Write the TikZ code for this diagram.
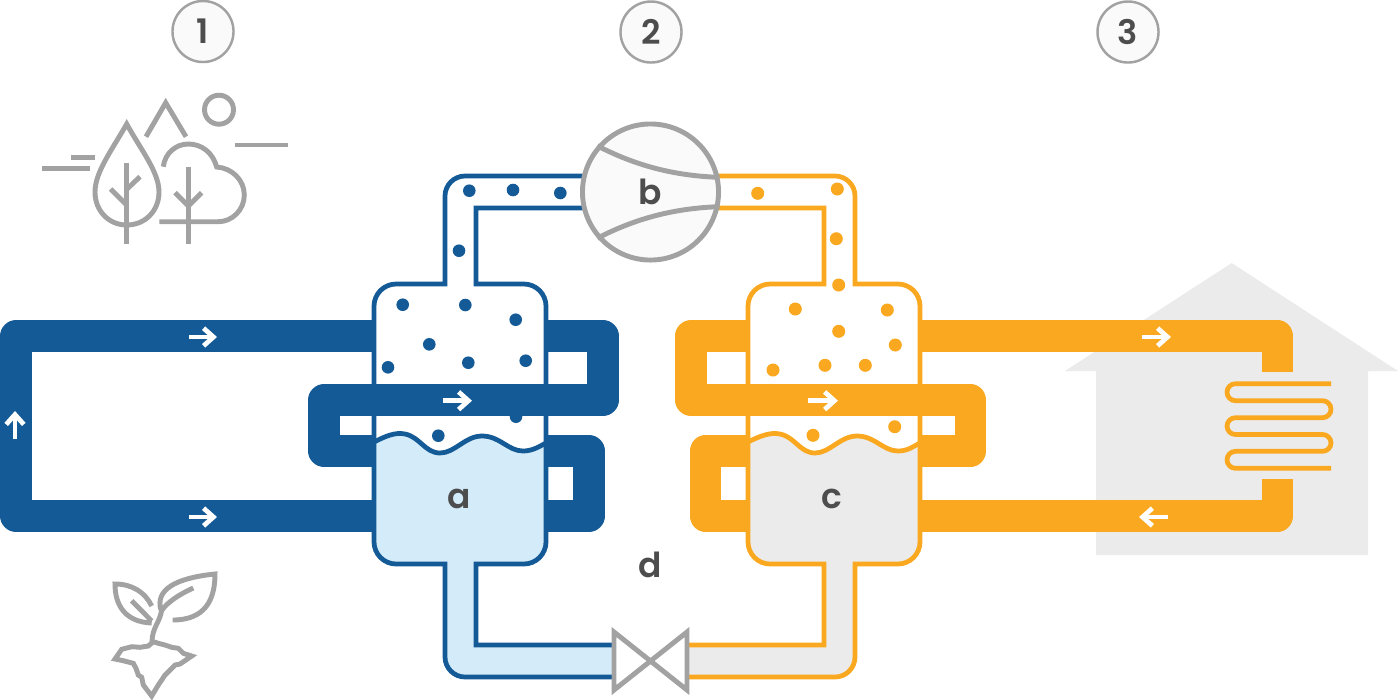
\documentclass[tikz,border=0pt]{standalone}
\usepackage{fontspec}
\setmainfont{Poppins SemiBold}
\usetikzlibrary{arrows.meta}
\definecolor{coldblue}{HTML}{145A96}
\definecolor{coldfill}{HTML}{D4EBF9}
\definecolor{warmorange}{HTML}{F9A81F}
\definecolor{warmfill}{HTML}{EBEBEB}
\definecolor{icongrey}{HTML}{A2A2A2}
\definecolor{labelgrey}{HTML}{4D4D4D}
\tikzset{
  thickpipe/.style={line width=8.9pt,line join=round},
  tubeline/.style={line width=1.35pt},
  iconline/.style={draw=icongrey,line width=1.4pt},
  flowarrow/.style={draw=white,line width=1.35pt,-{Straight Barb[length=2.8pt,width=5pt]}},
  partlabel/.style={text=labelgrey,font=\fontsize{9.8}{12}\selectfont},
  numberring/.style={circle,draw=icongrey,line width=.7pt,fill=white!98!black,inner sep=0pt,minimum size=.61cm,
    text=labelgrey,font=\fontsize{9.6}{12}\selectfont}
}
\begin{document}
\begin{tikzpicture}[x=.01cm,y=-.01cm]
    \useasboundingbox (0,0) rectangle (1400,699);
    \fill[warmfill] (1231.7,263) -- (1398,371) -- (1368,371) -- (1368,555) -- (1096,555) -- (1096,371) -- (1065,371) -- cycle;
    \draw[thickpipe,coldblue] (374,336) -- (16,336) -- (16,516) -- (374,516);
    \draw[thickpipe,coldblue] (546,336) -- (603,336) -- (603,400) -- (324,400) -- (324,451) -- (374,451);
    \draw[thickpipe,coldblue] (546,451) -- (589,451) -- (589,516) -- (546,516);
    \draw[thickpipe,warmorange] (748,336) -- (691,336) -- (691,400) -- (970.5,400) -- (970.5,451) -- (920,451);
    \draw[thickpipe,warmorange] (748,451) -- (705.5,451) -- (705.5,516) -- (748,516);
    \draw[thickpipe,warmorange] (920,336) -- (1277.5,336) -- (1277.5,372);
    \draw[thickpipe,warmorange] (920,516) -- (1277.5,516) -- (1277.5,479);
    \draw[warmorange,tubeline,rounded corners=2.42pt] (1331,383.7) -- (1227,383.7) -- (1227,400.7) -- (1331,400.7) -- (1331,417.7) -- (1227,417.7) -- (1227,434.5) -- (1331,434.5) -- (1331,451.3) -- (1227,451.3) -- (1227,468.3) -- (1331,468.3);
    \path[save path=\tanka] (615,677) [rounded corners=5.7pt] -- (445,677) [sharp corners] -- (445,564) [rounded corners=6.3pt] -- (374,564) -- (374,284) [sharp corners] -- (445,284) [rounded corners=5.7pt] -- (445,176) [sharp corners] -- (585,176) -- (585,208) -- (476,208) -- (476,284) [rounded corners=6.3pt] -- (546,284) -- (546,564) [sharp corners] -- (476,564) -- (476,645) -- (615,645) -- cycle;
    \fill[white,use path=\tanka];
    \begin{scope}
        \clip[use path=\tanka];
        \fill[coldfill] (374,442) .. controls (386,436) and (395,432) .. (405,434) .. controls (420,437) and (425,453) .. (440,453) .. controls (455,453) and (465,436) .. (482,436) .. controls (500,436) and (508,451) .. (523,451) .. controls (533,451) and (540,446) .. (546,443) -- (620,443) -- (620,699) -- (360,699) -- cycle;
    \end{scope}
    \draw[coldblue,tubeline,use path=\tanka];
    \draw[coldblue,tubeline] (374,442) .. controls (386,436) and (395,432) .. (405,434) .. controls (420,437) and (425,453) .. (440,453) .. controls (455,453) and (465,436) .. (482,436) .. controls (500,436) and (508,451) .. (523,451) .. controls (533,451) and (540,446) .. (546,443);
    \path[save path=\tankc] (686,677) [rounded corners=5.7pt] -- (855,677) [sharp corners] -- (855,564) [rounded corners=6.3pt] -- (920,564) -- (920,284) [sharp corners] -- (855,284) [rounded corners=5.7pt] -- (855,176) [sharp corners] -- (715,176) -- (715,208) -- (824,208) -- (824,284) [rounded corners=6.3pt] -- (748,284) -- (748,564) [sharp corners] -- (824,564) -- (824,645) -- (686,645) -- cycle;
    \fill[white,use path=\tankc];
    \begin{scope}
        \clip[use path=\tankc];
        \fill[warmfill] (748,442) .. controls (760,436) and (770,432) .. (780,434) .. controls (795,437) and (800,453) .. (815,453) .. controls (830,453) and (840,436) .. (857,436) .. controls (875,436) and (883,451) .. (898,451) .. controls (908,451) and (914,446) .. (920,443) -- (930,443) -- (930,699) -- (680,699) -- (680,442) -- cycle;
    \end{scope}
    \draw[warmorange,tubeline,use path=\tankc];
    \draw[warmorange,tubeline] (748,442) .. controls (760,436) and (770,432) .. (780,434) .. controls (795,437) and (800,453) .. (815,453) .. controls (830,453) and (840,436) .. (857,436) .. controls (875,436) and (883,451) .. (898,451) .. controls (908,451) and (914,446) .. (920,443);
    \foreach \x/\y in {402.7/304.7,465.3/305,515.7/319.7,429.3/344.3,388/367.3,468.3/362.7,525.7/360.7,438.3/435.7,516/416.7,469.3/190.7,513/190,560.3/193,459/250.7}
        \fill[coldblue] (\x,\y) circle (6.3);
    \foreach \x/\y in {838.7/285,795.3/309,887.3/310,838.7/331.3,895.3/345,773/370,825/365.3,865.3/365.3,813/435.3,894.7/426.7,757.7/193.3,837.3/189,836.3/238.7}
        \fill[warmorange] (\x,\y) circle (6.5);
    \draw[thickpipe,coldblue] (324,400) -- (603,400);
    \draw[thickpipe,warmorange] (691,400) -- (970.5,400);
    \draw[flowarrow] (189,337) -- (217,337);
    \draw[flowarrow] (443,400.7) -- (472,400.7);
    \draw[flowarrow] (189,517) -- (217,517);
    \draw[flowarrow] (15,439) -- (15,411);
    \draw[flowarrow] (1142,337) -- (1171,337);
    \draw[flowarrow] (808,400.7) -- (838,400.7);
    \draw[flowarrow] (1168,517) -- (1139,517);
    \node[circle,iconline,fill=white!98!black,inner sep=0pt,minimum size=1.36cm,partlabel] (b) at (650.5,192) {b};
    \draw[iconline] (b.139) .. controls (640,168) and (680,176) .. (b.12);
    \draw[iconline] (b.221) .. controls (640,216) and (680,208) .. (b.-12);
    \draw[iconline,fill=white] (614,632) -- (687,690) -- (687,632) -- (614,690) -- cycle;
    \node[partlabel] (a) at (459.5,499) {a};
    \node[partlabel] (c) at (831.5,499) {c};
    \node[partlabel] (d) at (650.5,565) {d};
    \node[numberring] (one) at (203,31.5) {1};
    \node[numberring] (two) at (651,32) {2};
    \node[numberring] (three) at (1128,32) {3};
    \draw[iconline] (219,109.7) circle (14.5);
    \draw[iconline] (146,136.7) -- (165.7,102.7) -- (186,136.7);
    \draw[iconline] (235,145) -- (288,145);
    \draw[iconline] (70.7,157.3) -- (94.7,157.3);
    \draw[iconline] (42.3,168.3) -- (90,168.3);
    \draw[iconline] (126.7,124) .. controls (112,150) and (95,172) .. (95,192) .. controls (95,211) and (109,225) .. (126.7,225) .. controls (145,225) and (159,211) .. (159,192) .. controls (159,172) and (141,150) .. (126.7,124) -- cycle;
    \draw[iconline] (126.7,163.3) -- (126.7,244);
    \draw[iconline] (110.7,189) -- (126.7,205);
    \draw[iconline] (140,176.7) -- (126.7,189.3);
    \draw[iconline] (163.3,166.7) .. controls (165,153) and (176,144) .. (188.3,144) .. controls (202,144) and (213,153) .. (216.7,167) .. controls (232,168) and (244.3,180) .. (244.3,195) .. controls (244.3,210) and (232,221.7) .. (218.3,221.7) -- (159.3,221.7);
    \draw[iconline] (188.3,166.7) -- (188.3,244);
    \draw[iconline] (175,192.7) -- (188.3,206) -- (201.7,192.7);
    \draw[iconline] (151.7,606) .. controls (145,592) and (132,584) .. (115,584) .. controls (115,605) and (125,622) .. (151.7,623);
    \draw[iconline] (131.7,600.7) -- (151.7,621);
    \draw[iconline] (161,610) .. controls (155,590) and (175,578) .. (215,574) .. controls (215,600) and (205,620) .. (172.7,620);
    \draw[iconline] (193.3,588) .. controls (178,595) and (168,602) .. (162,610);
    \draw[iconline] (161.7,610) .. controls (160,622) and (152,628) .. (152,642);
    \draw[iconline] (153.3,641.7) -- (148.3,646) -- (140,647.3) -- (131.7,646.7) -- (121.7,649.3) -- (115,659) -- (123.3,660.7) -- (133.3,663.3) -- (136,668.3) -- (138.3,675) -- (141.7,677.3) -- (143.3,685) -- (151.7,696) -- (158.3,685) -- (161.7,680) -- (165,675) -- (168.3,671.7) -- (175,665) -- (180,664) -- (191.7,656) -- (183.3,653.3) -- (178.3,648.3) -- (171.7,647.3) -- (165,645) -- (158.3,643.3) -- cycle;
\end{tikzpicture}
\end{document}
